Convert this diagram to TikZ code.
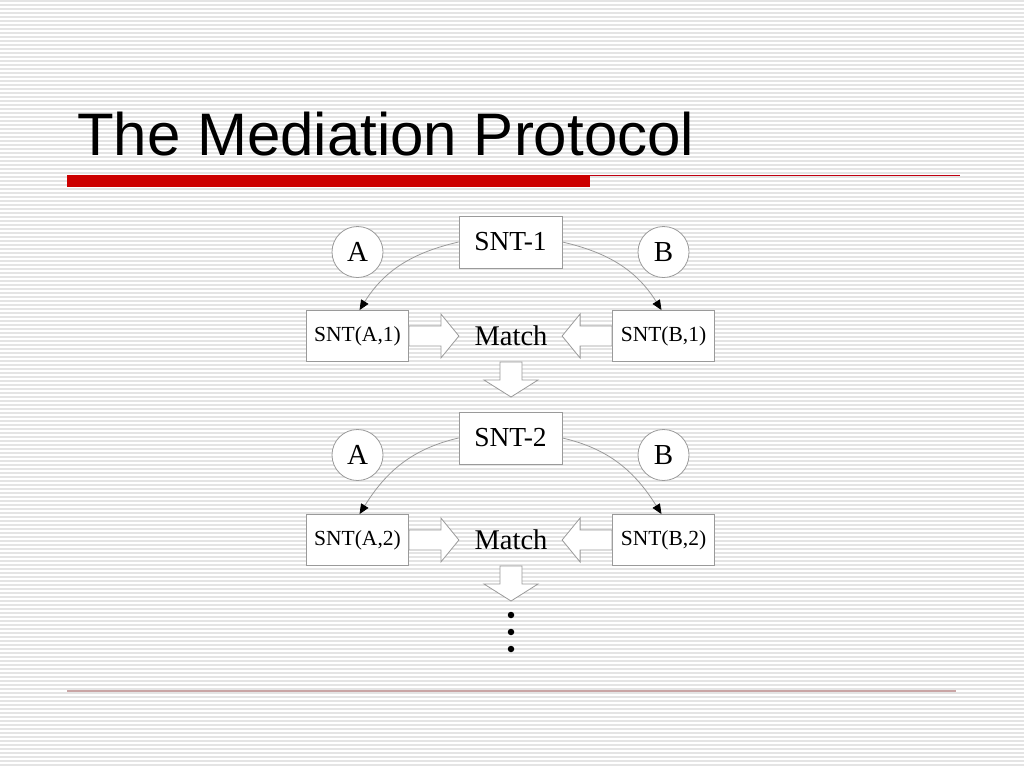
\documentclass[tikz,border=0pt]{standalone}
\usepackage{fontspec}
\setmainfont{Liberation Serif}
\newfontfamily\titlesf{Liberation Sans}
\usetikzlibrary{arrows.meta}
\definecolor{barred}{HTML}{CC0000}
\definecolor{thinred}{HTML}{C00010}
\definecolor{footline}{HTML}{C9A5A5}
\definecolor{stripegray}{HTML}{E4E4E4}
\definecolor{edgegray}{HTML}{9A9A9A}
\tikzset{
  stripe/.style={stripegray, line width=1.6pt},
  box/.style={draw=edgegray, fill=white, line width=0.8pt, inner sep=0pt},
  bigbox/.style={box, minimum width=103pt, minimum height=52pt, font=\fontsize{27.5}{30}\selectfont},
  smallbox/.style={box, minimum width=102pt, minimum height=51pt, font=\fontsize{21.5}{24}\selectfont},
  party/.style={circle, draw=edgegray, fill=white, line width=0.8pt, minimum size=51pt, inner sep=0pt, font=\fontsize{29}{32}\selectfont},
  matchtxt/.style={inner sep=0pt, font=\fontsize{28.5}{32}\selectfont},
  conn/.style={draw=edgegray, line width=0.8pt, -{Triangle[length=10pt,width=8.5pt,color=black]}},
  blk/.style={draw=edgegray, fill=white, line width=0.8pt, line join=miter},
  dotnode/.style={circle, fill=black, minimum size=6.5pt, inner sep=0pt},
}
\begin{document}
\begin{tikzpicture}[x=1pt,y=-1pt]
\useasboundingbox (0,0) rectangle (1024,768);
\fill[white] (0,0) rectangle (1024,768);
\foreach \yy in {1,5,...,768} \draw[stripe] (0,\yy) -- (1024,\yy);
% title
\node[anchor=base west, inner sep=0pt, font=\titlesf\fontsize{60}{70}\selectfont] (title) at (77,155) {The Mediation Protocol};
\fill[barred] (67,175) rectangle (590,187);
\draw[thinred, line width=1.8pt] (590,175.5) -- (960,175.5);
\draw[footline, line width=1.4pt] (67,691) -- (956,691);
% first round
\node[bigbox] (snt1) at (510.5,242) {SNT-1};
\node[party] (a1) at (357.5,252) {A};
\node[party] (b1) at (663.5,252) {B};
\node[smallbox] (sa1) at (357.5,336) {SNT(A,1)};
\node[smallbox] (sb1) at (663.5,336) {SNT(B,1)};
\node[matchtxt] (m1) at (511,336) {Match};
\draw[conn] (snt1.west) to[out=193,in=58] ([xshift=2pt]sa1.north);
\draw[conn] (snt1.east) to[out=-13,in=122] ([xshift=-2pt]sb1.north);
\filldraw[blk] (sa1.east) ++(0,-10) -- ++(32,0) -- ++(0,-12) -- ++(18,22) -- ++(-18,22) -- ++(0,-12) -- ++(-32,0) -- cycle;
\filldraw[blk] (sb1.west) ++(0,-10) -- ++(-32,0) -- ++(0,-12) -- ++(-18,22) -- ++(18,22) -- ++(0,-12) -- ++(32,0) -- cycle;
\coordinate (d1) at (511,362);
\filldraw[blk] (d1) ++(-11,0) -- ++(0,18) -- ++(-16,0) -- ++(27,17) -- ++(27,-17) -- ++(-16,0) -- ++(0,-18) -- cycle;
% second round
\node[bigbox] (snt2) at (510.5,438) {SNT-2};
\node[party] (a2) at (357.5,455) {A};
\node[party] (b2) at (663.5,455) {B};
\node[smallbox] (sa2) at (357.5,540) {SNT(A,2)};
\node[smallbox] (sb2) at (663.5,540) {SNT(B,2)};
\node[matchtxt] (m2) at (511,540) {Match};
\draw[conn] (snt2.west) to[out=193,in=58] ([xshift=2pt]sa2.north);
\draw[conn] (snt2.east) to[out=-13,in=122] ([xshift=-2pt]sb2.north);
\filldraw[blk] (sa2.east) ++(0,-10) -- ++(32,0) -- ++(0,-12) -- ++(18,22) -- ++(-18,22) -- ++(0,-12) -- ++(-32,0) -- cycle;
\filldraw[blk] (sb2.west) ++(0,-10) -- ++(-32,0) -- ++(0,-12) -- ++(-18,22) -- ++(18,22) -- ++(0,-12) -- ++(32,0) -- cycle;
\coordinate (d2) at (511,566);
\filldraw[blk] (d2) ++(-11,0) -- ++(0,18) -- ++(-16,0) -- ++(27,17) -- ++(27,-17) -- ++(-16,0) -- ++(0,-18) -- cycle;
% continuation dots
\node[dotnode] (v1) at (511,615) {};
\node[dotnode] (v2) at (511,632) {};
\node[dotnode] (v3) at (511,649) {};
\end{tikzpicture}
\end{document}
